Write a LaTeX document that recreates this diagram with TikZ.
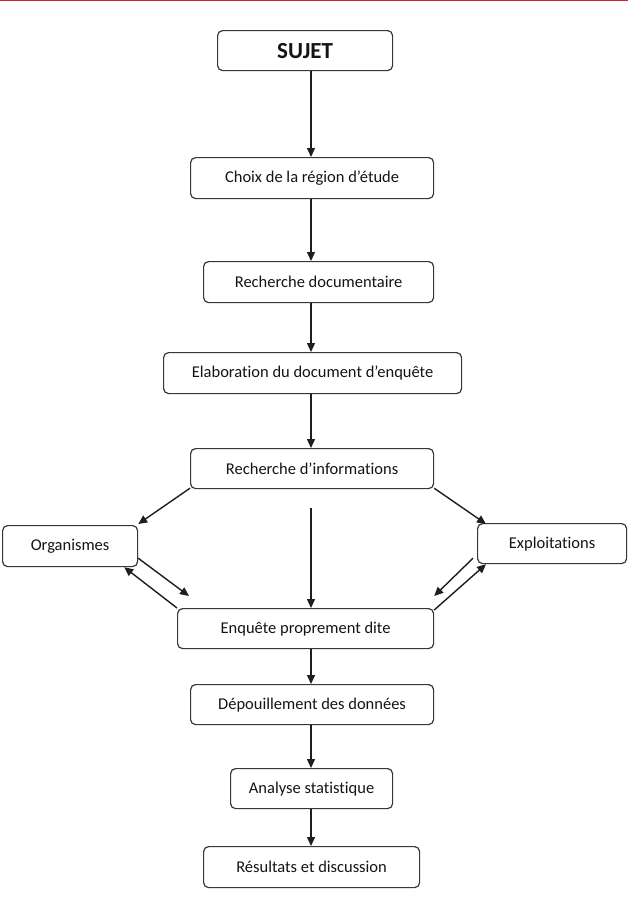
\documentclass[tikz,border=0pt]{standalone}
\usepackage{fontspec}
\setmainfont{Carlito}[Ligatures=NoCommon]
\usetikzlibrary{arrows.meta,calc}
\definecolor{linec}{RGB}{30,30,30}
\definecolor{boxc}{RGB}{55,55,55}
\definecolor{txtc}{RGB}{20,20,20}
\definecolor{topred}{RGB}{150,60,70}
\begin{document}
\begin{tikzpicture}[x=1pt,y=-1pt,
  box/.style={draw=boxc,line width=1.2pt,rounded corners=5pt,inner sep=0pt,
    text=txtc,font=\fontsize{16.5}{19}\selectfont,anchor=north west},
  arr/.style={draw=linec,line width=1.4pt,-{Triangle[length=9pt,width=8pt]}}]
\useasboundingbox (0,0) rectangle (628,913);
\fill[white] (0,0) rectangle (628,913);
\draw[topred,line width=1.6pt] (0,0.6) -- (628,0.6);
\coordinate (axis) at (311,0);
\node[box,minimum width=175pt,minimum height=40pt,font=\fontsize{23}{27}\selectfont\bfseries] (sujet) at (217,30) {SUJET};
\node[box,minimum width=243pt,minimum height=41pt] (choix) at (190,157) {Choix de la région d’étude};
\node[box,minimum width=230pt,minimum height=41pt] (rdoc) at (203,261) {Recherche documentaire};
\node[box,minimum width=298pt,minimum height=41pt] (elab) at (163,352) {Elaboration du document d’enquête};
\node[box,minimum width=243pt,minimum height=40pt] (rinfo) at (190,448) {Recherche d’informations};
\node[box,minimum width=135pt,minimum height=41pt] (org) at (2,525) {Organismes};
\node[box,minimum width=149pt,minimum height=40pt] (expl) at (477,523) {Exploitations};
\node[box,minimum width=256pt,minimum height=40pt] (enq) at (177,608) {Enquête proprement dite};
\node[box,minimum width=243pt,minimum height=40pt] (depo) at (190,684) {Dépouillement des données};
\node[box,minimum width=162pt,minimum height=40pt] (anal) at (230,768) {Analyse statistique};
\node[box,minimum width=216pt,minimum height=41pt] (resu) at (203,846) {Résultats et discussion};
% vertical flow
\draw[arr] (sujet.south -| axis) -- (choix.north -| axis);
\draw[arr] (choix.south -| axis) -- (rdoc.north -| axis);
\draw[arr] (rdoc.south -| axis) -- (elab.north -| axis);
\draw[arr] (elab.south -| axis) -- (rinfo.north -| axis);
\draw[arr] ($(rinfo.south -| axis)+(0,19)$) -- (enq.north -| axis);
\draw[arr] (enq.south -| axis) -- (depo.north -| axis);
\draw[arr] (depo.south -| axis) -- (anal.north -| axis);
\draw[arr] (anal.south -| axis) -- (resu.north -| axis);
% branches
\draw[arr] ($(rinfo.south west)+(0,-1)$) -- ($(org.north east)+(0,-1)$);
\draw[arr] ($(rinfo.south east)+(0,-1)$) -- ($(expl.north west)+(9,1)$);
\draw[arr] ($(org.south east)+(0,-9)$) -- ($(enq.north west)+(12,-12)$);
\draw[arr] (enq.north west) -- ($(org.south east)+(-14,0)$);
\draw[arr] ($(expl.south west)+(-4,-6)$) -- ($(enq.north east)+(0,-12)$);
\draw[arr] ($(enq.north east)+(0,2)$) -- ($(expl.south west)+(9,0)$);
\end{tikzpicture}
\end{document}
